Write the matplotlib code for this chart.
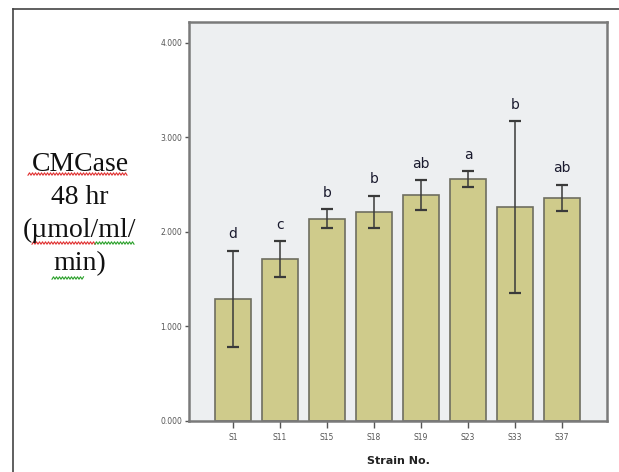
import matplotlib
matplotlib.use('Agg')
import matplotlib.pyplot as plt
from matplotlib.lines import Line2D
import numpy as np

# data
strains = ['S1', 'S11', 'S15', 'S18', 'S19', 'S23', 'S33', 'S37']
cmcase = [1.29, 1.71, 2.14, 2.21, 2.39, 2.56, 2.26, 2.36]
errors = [0.51, 0.19, 0.10, 0.17, 0.155, 0.08, 0.91, 0.14]
letters = ['d', 'c', 'b', 'b', 'ab', 'a', 'b', 'ab']
yticks = [0.0, 1.0, 2.0, 3.0, 4.0]


def wavy(fig, x0, x1, y, color):
    # spell-check squiggle under the word (figure pixels)
    xs = np.arange(x0, x1 + 0.5, 1.5)
    ys = y + 1.2 * np.where(np.arange(len(xs)) % 2 == 0, 1, -1)
    fig.add_artist(Line2D(xs / 619, 1 - ys / 472, color=color, lw=0.8))


def main():
    fig = plt.figure(figsize=(6.19, 4.72), dpi=100)
    fig.patch.set_facecolor('white')

    # outer frame of the picture
    fig.add_artist(Line2D([13 / 619, 13 / 619], [0, 1 - 9 / 472], color='#444444', lw=1.2))
    fig.add_artist(Line2D([13 / 619, 1], [1 - 9 / 472, 1 - 9 / 472], color='#444444', lw=1.2))

    ax = fig.add_axes([189 / 619, 51 / 472, 418 / 619, 399 / 472])
    ax.set_facecolor('#EDEFF1')

    x = np.arange(len(strains))
    ax.bar(x, cmcase, width=0.77, color='#CFCB8B', edgecolor='#6E6E60', linewidth=1.2, zorder=2)
    ax.errorbar(x, cmcase, yerr=errors, fmt='none', ecolor='#3A3A3A', elinewidth=1.1,
                capsize=4, capthick=1.6, zorder=3)

    for xi, v, e, lab in zip(x, cmcase, errors, letters):
        ax.annotate(lab, (xi, v + e), xytext=(0, 9), textcoords='offset points',
                    ha='center', va='baseline', fontsize=10, color='#1a1a2e')

    ax.set_xlim(-0.94, len(strains) - 1 + 0.96)
    ax.set_ylim(0, 4.22)
    ax.set_xticks(x)
    ax.set_xticklabels(strains, fontsize=5.5, color='#555555')
    ax.set_yticks(yticks)
    ax.set_yticklabels([f'{t:.3f}' for t in yticks], fontsize=5.5, color='#555555')
    ax.tick_params(axis='both', direction='out', length=3, width=1, color='#555555', pad=2)
    ax.tick_params(axis='x', length=5, pad=4)

    for s in ax.spines.values():
        s.set_color('#7a7a7a')
        s.set_linewidth(1.8)

    ax.set_xlabel('Strain No.', fontsize=8, fontweight='bold', color='#222222', labelpad=10)

    # left-hand label in Times-like font
    fig.text(80 / 619, 1 - 214 / 472, 'CMCase\n48 hr\n(\u00b5mol/ml/\nmin)', ha='center', va='center',
             family='Liberation Serif', fontsize=20, linespacing=1.42, color='#111111')
    wavy(fig, 28, 128, 174, '#e03030')
    wavy(fig, 32, 95, 243, '#e03030')
    wavy(fig, 95, 135, 243, '#2aa02a')
    wavy(fig, 52, 84, 278, '#2aa02a')

    fig.savefig('out.png', dpi=100)


if __name__ == "__main__":
    main()
